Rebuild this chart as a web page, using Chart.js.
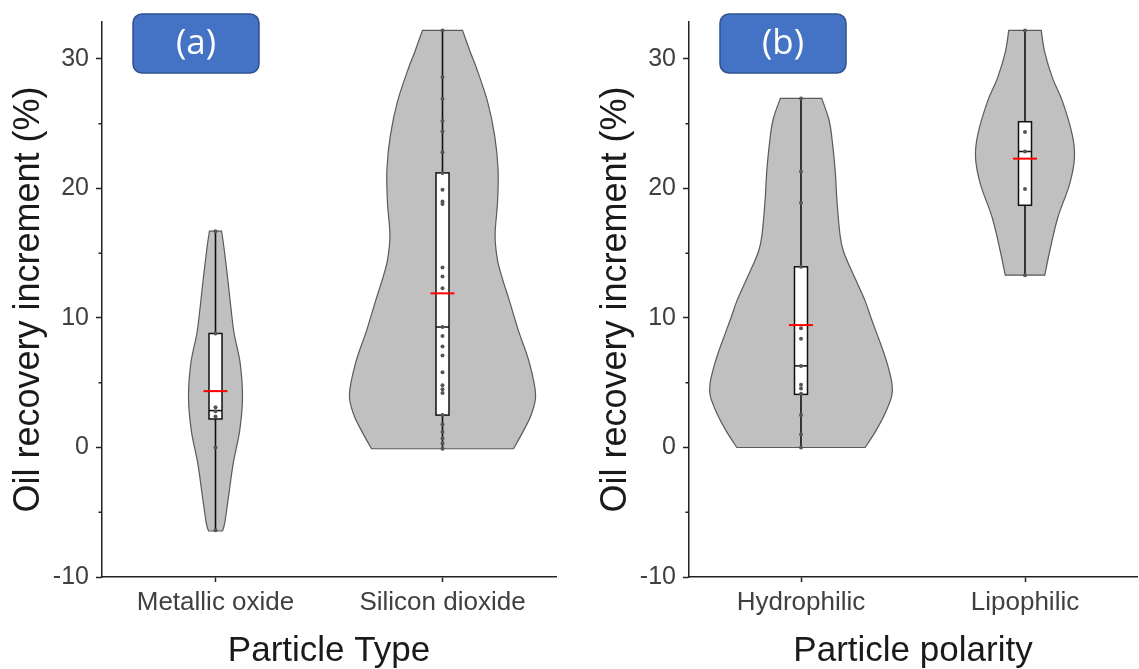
<!DOCTYPE html>
<html><head><meta charset="utf-8">
<script src="https://cdn.jsdelivr.net/npm/chart.js@4.4.1/dist/chart.umd.min.js"></script>
<style>
html,body{margin:0;padding:0;background:#fff;width:1139px;height:669px;overflow:hidden}
.wrap{position:absolute;top:0;height:669px}
#wa{left:0;width:565px}
#wb{left:565px;width:574px}
</style></head><body>
<div class="wrap" id="wa"><canvas id="ca"></canvas></div>
<div class="wrap" id="wb"><canvas id="cb"></canvas></div>
<script>
// ---------- categories & ticks ----------
const typeCategories = ['Metallic oxide', 'Silicon dioxide'];
const polarityCategories = ['Hydrophilic', 'Lipophilic'];
const yTickValues = [-10, 0, 10, 20, 30];
const yMinorTickValues = [-5, 5, 15, 25];

// ---------- raw data points (%) ----------
const metallicPoints = [16.7, 8.8, 3.1, 2.8, 2.4, 0.0, -6.4];
const siliconPoints = [32.2, 28.6, 26.9, 25.2, 24.4, 22.8, 21.2, 19.9, 19.0, 18.8, 13.9, 13.2, 12.3, 9.3, 8.6, 7.8, 7.1, 5.8, 4.8, 4.5, 4.2, 2.5, 1.8, 1.2, 0.7, 0.3, -0.1];
const hydrophilicPoints = [26.95, 21.3, 18.9, 13.95, 9.2, 8.4, 6.3, 4.85, 4.55, 4.15, 2.5, 1.0, 0.0];
const lipophilicPoints = [32.2, 24.35, 22.85, 19.95, 13.3];

// ---------- box statistics [min, q1, median, q3, max] ----------
const metallicBox = [-6.4, 2.2, 2.85, 8.8, 16.7];
const siliconBox = [-0.1, 2.5, 9.3, 21.2, 32.2];
const hydrophilicBox = [0.0, 4.1, 6.3, 13.95, 26.95];
const lipophilicBox = [13.3, 18.7, 22.85, 25.15, 32.2];

// ---------- means ----------
const typeMeans = [4.35, 11.9];
const polarityMeans = [9.45, 22.3];

// ---------- violin density profiles (value, relative density) ----------
const metallicViolinY = [16.7, 15.5, 13.1, 10.5, 8.8, 6.5, 3.85, 1.3, -1.25, -3.8, -5.8, -6.45];
const metallicViolinD = [0.065, 0.09, 0.13, 0.17, 0.2, 0.265, 0.29, 0.26, 0.19, 0.14, 0.1, 0.075];
const siliconViolinY = [32.2, 30.5, 29.3, 26.7, 24.1, 21.5, 19.0, 16.4, 14.5, 13.0, 11.3, 9.0, 6.5, 4.1, 2.6, 1.3, -0.1];
const siliconViolinD = [0.215, 0.3, 0.365, 0.484, 0.56, 0.597, 0.592, 0.565, 0.59, 0.645, 0.72, 0.817, 0.935, 1.0, 0.957, 0.871, 0.763];
const hydrophilicViolinY = [26.95, 25.4, 24.1, 21.5, 19.0, 16.4, 15.15, 13.85, 12.6, 11.3, 10.0, 8.75, 7.5, 6.3, 5.0, 4.0, 2.6, 1.3, 0.0];
const hydrophilicViolinD = [0.226, 0.301, 0.333, 0.371, 0.392, 0.425, 0.462, 0.538, 0.618, 0.699, 0.763, 0.828, 0.892, 0.946, 0.989, 0.989, 0.914, 0.817, 0.699];
const lipophilicViolinY = [32.2, 30.5, 28.5, 26.7, 24.1, 22.3, 20.3, 17.7, 15.15, 13.3];
const lipophilicViolinD = [0.177, 0.215, 0.301, 0.409, 0.516, 0.538, 0.484, 0.355, 0.269, 0.215];

// ---------- styling ----------
const FONT = "'Liberation Sans', Arial, sans-serif";
const AXIS_COLOR = '#222';
const VIOLIN_SCALE = 0.41; // max half width as fraction of category spacing

function splineTo(ctx, pts, start) {
  if (start) ctx.moveTo(pts[0].x, pts[0].y); else ctx.lineTo(pts[0].x, pts[0].y);
  for (let i = 0; i < pts.length - 1; i++) {
    const p0 = pts[i - 1] || pts[i], p1 = pts[i], p2 = pts[i + 1], p3 = pts[i + 2] || pts[i + 1];
    ctx.bezierCurveTo(p1.x + (p2.x - p0.x) / 6, p1.y + (p2.y - p0.y) / 6,
                      p2.x - (p3.x - p1.x) / 6, p2.y - (p3.y - p1.y) / 6, p2.x, p2.y);
  }
}

const violinPlugin = {
  id: 'violins',
  beforeDatasetsDraw(chart) {
    const cfg = chart.options.plugins.violins;
    const xs = chart.scales.x, ys = chart.scales.y, ctx = chart.ctx;
    const spacing = xs.getPixelForValue(1) - xs.getPixelForValue(0);
    ctx.save();
    cfg.groups.forEach((g, i) => {
      const cx = xs.getPixelForValue(i);
      const k = spacing * VIOLIN_SCALE;
      const right = g.vy.map((v, j) => ({ x: cx + g.vd[j] * k, y: ys.getPixelForValue(v) }));
      const left = g.vy.map((v, j) => ({ x: cx - g.vd[j] * k, y: ys.getPixelForValue(v) })).reverse();
      ctx.beginPath();
      splineTo(ctx, right, true);
      splineTo(ctx, left, false);
      ctx.closePath();
      ctx.fillStyle = '#c0c0c0';
      ctx.fill();
      ctx.lineWidth = 1.2;
      ctx.strokeStyle = '#5a5a5a';
      ctx.stroke();
      // whisker
      const [mn, q1, md, q3, mx] = g.box;
      ctx.beginPath();
      ctx.moveTo(cx, ys.getPixelForValue(mn));
      ctx.lineTo(cx, ys.getPixelForValue(mx));
      ctx.lineWidth = 1.6;
      ctx.strokeStyle = '#111';
      ctx.stroke();
      // box
      const bw = 13;
      const yTop = ys.getPixelForValue(q3), yBot = ys.getPixelForValue(q1);
      ctx.fillStyle = '#fff';
      ctx.fillRect(cx - bw / 2, yTop, bw, yBot - yTop);
      ctx.lineWidth = 1.5;
      ctx.strokeRect(cx - bw / 2, yTop, bw, yBot - yTop);
      ctx.beginPath();
      const ym = ys.getPixelForValue(md);
      ctx.moveTo(cx - bw / 2, ym);
      ctx.lineTo(cx + bw / 2, ym);
      ctx.stroke();
    });
    // minor ticks on y axis
    ctx.beginPath();
    yMinorTickValues.forEach(v => {
      const py = ys.getPixelForValue(v);
      ctx.moveTo(chart.chartArea.left - 3.5, py);
      ctx.lineTo(chart.chartArea.left, py);
    });
    ctx.lineWidth = 1.5;
    ctx.strokeStyle = AXIS_COLOR;
    ctx.stroke();
    ctx.restore();
  },
  afterDatasetsDraw(chart) {
    const cfg = chart.options.plugins.violins;
    const xs = chart.scales.x, ys = chart.scales.y, ctx = chart.ctx;
    ctx.save();
    cfg.means.forEach((m, i) => {
      const cx = xs.getPixelForValue(i), py = ys.getPixelForValue(m);
      ctx.beginPath();
      ctx.moveTo(cx - 12, py);
      ctx.lineTo(cx + 12, py);
      ctx.lineWidth = 2;
      ctx.strokeStyle = '#ff0000';
      ctx.stroke();
    });
    // panel label
    const a = chart.chartArea;
    const bx = a.left + 31, by = 14, bwid = 126, bh = 59;
    ctx.beginPath();
    ctx.roundRect(bx, by, bwid, bh, 9);
    ctx.fillStyle = '#4472c4';
    ctx.fill();
    ctx.lineWidth = 1.5;
    ctx.strokeStyle = '#2f528f';
    ctx.stroke();
    ctx.fillStyle = '#fff';
    ctx.font = "35px 'Open Sans', Lato, sans-serif";
    ctx.textAlign = 'center';
    ctx.textBaseline = 'middle';
    ctx.fillText(cfg.label, bx + bwid / 2, by + bh / 2 + 1);
    ctx.restore();
  }
};

function makeChart(id, categories, groups, means, xTitle, label, padL, padR) {
  const pts = [];
  groups.forEach((g, i) => g.points.forEach(v => pts.push({ x: i, y: v })));
  return new Chart(document.getElementById(id), {
    type: 'scatter',
    data: { datasets: [{ data: pts, pointRadius: 2, pointBackgroundColor: '#555', pointBorderWidth: 0, pointHoverRadius: 2 }] },
    plugins: [violinPlugin],
    options: {
      responsive: true, maintainAspectRatio: false, animation: false, devicePixelRatio: 1,
      layout: { padding: { top: 20, left: padL, right: padR, bottom: 0 } },
      plugins: { legend: { display: false }, tooltip: { enabled: false },
        violins: { groups, means, label } },
      scales: {
        x: {
          type: 'linear', min: -0.5, max: 1.5,
          afterBuildTicks: s => { s.ticks = [{ value: 0 }, { value: 1 }]; },
          afterFit: s => { s.height = 92; },
          ticks: { callback: v => categories[v], font: { family: FONT, size: 26 }, color: '#404040', padding: 5, maxRotation: 0, autoSkip: false },
          grid: { display: true, drawOnChartArea: false, drawTicks: true, tickLength: 5, tickColor: AXIS_COLOR, tickWidth: 1.5 },
          border: { display: true, color: AXIS_COLOR, width: 1.5 },
          title: { display: true, text: xTitle, font: { family: FONT, size: 35, lineHeight: 1 }, color: '#1a1a1a', padding: 0 }
        },
        y: {
          type: 'linear', min: -10, max: 32.85,
          afterBuildTicks: s => { s.ticks = yTickValues.map(v => ({ value: v })); },
          afterFit: s => { s.width = 102; },
          ticks: { font: { family: FONT, size: 25 }, color: '#404040', padding: 7 },
          grid: { display: true, drawOnChartArea: false, drawTicks: true, tickLength: 6, tickColor: AXIS_COLOR, tickWidth: 1.5 },
          border: { display: true, color: AXIS_COLOR, width: 1.5 },
          title: { display: true, text: 'Oil recovery increment (%)', font: { family: FONT, size: 36, lineHeight: 1.2 }, color: '#1a1a1a', padding: { top: 7, bottom: 0 } }
        }
      }
    }
  });
}

makeChart('ca', typeCategories, [
  { vy: metallicViolinY, vd: metallicViolinD, box: metallicBox, points: metallicPoints },
  { vy: siliconViolinY, vd: siliconViolinD, box: siliconBox, points: siliconPoints }
], typeMeans, 'Particle Type', '(a)', 0, 9);

makeChart('cb', polarityCategories, [
  { vy: hydrophilicViolinY, vd: hydrophilicViolinD, box: hydrophilicBox, points: hydrophilicPoints },
  { vy: lipophilicViolinY, vd: lipophilicViolinD, box: lipophilicBox, points: lipophilicPoints }
], polarityMeans, 'Particle polarity', '(b)', 22, 0);
</script>
</body></html>
